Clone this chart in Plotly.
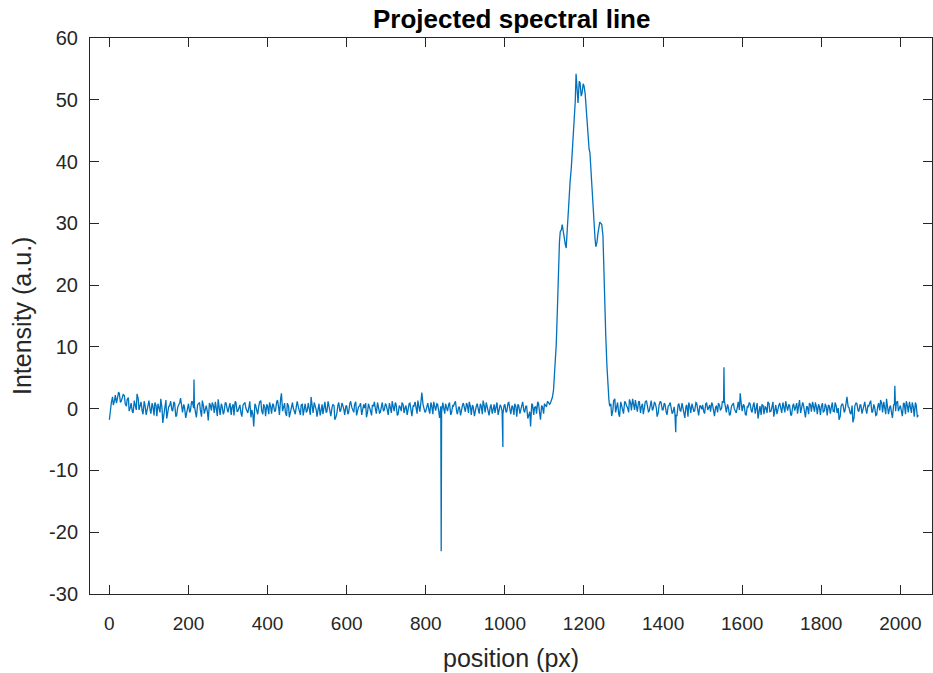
import plotly.graph_objects as go

# Baseline samples: grid A at positions 0,5,10,...
grid_a_start, grid_step = 0, 5
intensity_a = [
    # 0-95
    -1.8, 1.0, 0.6, 2.2, 1.5, 2.5, 1.2, 2.3, 0.8, 1.5, -0.4, 0.9, -0.7, 0.5, 2.4, -0.2, 1.1, -0.9, 0.6, -0.3,
    # 100-195
    1.3, -0.8, 0.4, 1.0, -1.2, 0.2, 1.6, -2.3, 0.8, -1.6, 0.3, 1.2, -0.4, 0.9, -1.1, 0.5, 1.7, -0.6, 0.2, -0.9,
    # 200-295
    0.8, -0.3, 1.1, 0.4, -1.4, 0.7, -0.2, 1.3, -0.8, 0.5, -1.9, 0.6, 1.0, -0.7, 0.3, 1.5, -1.0, 0.4, -0.5, 0.9,
    # 300-395
    -0.6, 0.9, 0.2, -1.1, 1.0, -0.4, 0.6, -1.3, 0.8, 0.1, -0.7, 1.2, -0.2, -2.9, 0.5, -0.9, 1.1, -0.3, 0.7, -1.2,
    # 400-495
    0.4, 1.0, -0.8, 0.6, -0.3, 1.4, -1.0, 2.5, 0.2, -0.6, 0.9, -1.4, 0.5, 0.1, -0.9, 1.2, -0.2, 0.6, -1.1, 0.8,
    # 500-595
    -0.4, 0.3, 1.9, -0.7, 0.5, -1.3, 0.8, 0.0, -0.9, 1.1, -0.5, 0.4, -1.2, 0.7, -1.8, -0.8, 1.0, -0.3, 0.6, -1.0,
    # 600-695
    0.5, -0.6, 1.2, -0.2, 0.7, -1.1, 0.3, 0.9, -0.5, 0.1, -1.4, 0.8, -0.3, 0.6, 1.1, -0.8, 0.2, -0.6, 1.0, -0.2,
    # 700-795
    0.6, -1.0, 0.4, 1.2, -0.4, 0.7, -0.9, 0.3, 1.0, -0.7, 0.5, -0.2, 0.9, -1.2, 0.4, 0.1, 1.3, -0.5, 2.6, 0.3,
    # 800-895
    -0.4, 0.9, -0.8, 0.5, 1.1, -0.3, 0.7, -1.5, -0.6, 0.2, 0.8, -0.4, 1.0, -0.7, 0.4, 1.2, -0.9, 0.3, -0.2, 0.9,
    # 900-995
    -0.5, 0.6, 1.1, -1.0, 0.3, -0.4, 0.8, -0.8, 0.5, 1.3, -0.6, 0.2, -1.1, 0.7, 0.1, -0.7, 1.0, -0.3, 0.4, -0.9,
    # 1000-1095
    0.7, -0.4, 1.0, -0.9, 0.3, 0.8, -1.3, 0.5, -0.2, 1.1, -0.6, 0.4, -1.0, -2.9, 0.6, 0.2, -0.8, 0.9, -1.8, 0.3,
    # 1100-1195 (line rises)
    0.8, 0.3, 1.0, 0.9, 1.8, 5.0, 10.5, 22.0, 28.6, 29.8, 27.2, 26.0, 33.0, 36.8, 41.0, 45.5, 54.2, 49.5, 52.8, 51.0,
    # 1200-1295 (line falls)
    52.3, 49.2, 43.5, 41.5, 35.5, 30.5, 26.2, 28.2, 30.2, 29.8, 22.0, 12.0, 3.5, 0.4, -1.2, 1.3, -0.6, 1.0, -1.3, 0.6,
    # 1300-1395
    -0.8, 1.0, 0.2, 1.5, -0.3, 0.8, 1.4, -0.5, 1.2, 0.3, -0.9, 1.1, 0.5, -0.4, 1.3, 0.0, 0.9, -1.3, 0.6, 1.0,
    # 1400-1495
    -0.2, 0.7, -1.0, 0.5, 0.1, -0.6, -0.8, -1.2, 0.8, -0.4, 0.3, -1.5, 0.6, 1.0, -0.7, 0.2, -0.3, 0.9, -1.1, 0.4,
    # 1500-1595
    0.6, -0.8, 1.0, 0.1, -0.5, 0.7, -1.2, 0.4, 0.9, -0.3, 1.2, 1.3, -0.6, 0.2, -0.9, 0.6, 0.0, -0.7, 1.1, 2.5,
    # 1600-1695
    -0.4, 0.5, -1.1, 0.3, 0.8, -0.6, 1.0, -0.2, -1.6, 0.4, 0.7, -0.9, 0.2, 1.1, -0.5, 0.3, -1.3, 0.6, 0.0, 0.9,
    # 1700-1795
    -0.7, 0.4, 1.2, -0.3, 0.5, -1.0, 0.8, 0.1, -0.8, 1.4, -0.2, 0.6, -1.4, 0.3, 0.9, -0.5, 0.2, 1.0, -0.9, 0.4,
    # 1800-1895
    0.3, -0.6, 0.8, -1.1, 0.5, 0.1, -0.4, 1.0, -0.7, -1.8, 0.4, 0.6, -0.3, 1.9, 0.2, -0.9, -2.2, 0.5, 0.8, -0.5,
    # 1900-1995
    0.6, -0.3, 1.1, -0.8, 0.4, 1.3, -0.5, 0.2, -1.0, 0.9, 1.4, -0.6, 0.3, 1.6, -0.9, 0.5, -1.5, 0.7, 1.0, -0.4,
    # 2000-2045
    0.5, -1.2, 0.8, 1.2, -0.6, 0.3, 1.0, -1.3, 0.6, -1.0,
]

# Grid B at positions 3,8,13,...
grid_b_start = 3
intensity_b = [
    # 3-98
    0.2, 1.9, 1.3, 0.9, 2.6, 1.0, 1.7, 2.1, 0.4, 1.8, 0.2, -0.5, 1.3, -0.2, 1.6, 0.6, -0.4, 1.2, -1.0, 0.5,
    # 103-198
    -0.2, 0.9, -1.1, 0.5, 0.8, -0.6, 0.1, -0.9, 1.4, -0.7, 0.6, -0.2, 1.1, -1.3, 0.3, 1.0, -0.4, 0.7, -1.5, 0.4,
    # 203-298
    -0.6, 1.2, 0.1, -0.9, 0.6, 1.0, -1.3, 0.4, 0.2, -0.6, 0.9, -0.3, 0.5, 1.1, -1.2, 0.3, 0.8, -0.9, 1.0, -0.1,
    # 303-398
    0.4, -1.0, 0.7, 1.2, -0.5, 0.2, -0.8, 0.6, 1.0, -0.6, 0.3, -1.4, -1.0, 0.8, -0.4, 0.5, 1.3, -0.9, 0.2, 0.7,
    # 403-498
    -0.9, 0.3, 0.8, -0.5, 1.1, 0.2, 1.6, -0.4, 0.9, -1.2, 0.4, -0.3, 1.0, -0.7, 0.5, 0.2, -1.0, 0.7, 0.3, -0.6,
    # 503-598
    0.9, -1.0, 0.6, 1.0, -0.2, 0.4, -1.1, 0.7, 0.3, -0.6, 1.2, -0.8, 0.2, 0.5, -1.3, 0.6, -0.5, 0.9, -0.2, 0.4,
    # 603-698
    -0.9, 0.8, 0.2, -0.6, 1.1, -0.3, 0.5, -1.0, 0.7, 0.9, -0.5, 0.3, -1.1, 0.4, -0.2, 1.0, -0.7, 0.6, -0.4, 0.8,
    # 703-798
    -0.3, 0.9, -0.7, 0.2, 1.0, -1.1, 0.5, -0.4, 0.6, 0.2, -1.0, 0.8, -0.2, 0.5, 1.1, -0.8, 0.3, 1.2, 0.7, -0.6,
    # 803-898
    0.6, -0.2, 1.0, -0.9, 0.3, 0.8, -0.5, 0.4, 1.0, -0.8, 0.1, 0.7, -1.0, 0.5, 0.9, -0.4, 0.2, -1.1, 0.6, -0.3,
    # 903-998
    0.9, -0.7, 0.3, 0.6, -1.2, 0.5, -0.1, 0.8, -0.9, 0.4, 1.0, -0.5, 0.3, -0.8, 0.7, 0.2, -1.0, 0.6, -0.4, 0.5,
    # 1003-1098
    -0.6, 0.9, -0.2, 0.5, -1.0, 0.3, 0.7, -0.8, 1.0, -0.3, 0.4, -1.6, -0.5, 0.8, -1.0, 0.3, 1.1, -0.6, 0.5, -0.8,
    # 1103-1198 (line rises)
    0.5, 1.2, 0.7, 1.4, 3.0, 7.5, 16.5, 27.0, 29.0, 28.5, 26.5, 29.5, 35.0, 39.0, 43.5, 49.8, 51.8, 53.0, 50.6, 52.6,
    # 1203-1298 (line falls)
    51.0, 46.0, 42.0, 38.0, 33.0, 27.5, 27.0, 29.5, 30.0, 28.0, 17.0, 7.0, 1.5, 0.8, -0.3, 1.6, 0.2, -0.9, 1.1, -0.4,
    # 1303-1398
    1.2, 0.4, -0.6, 0.9, 1.6, -0.2, 0.5, 1.1, -0.7, 0.8, 0.2, 1.3, -0.5, 0.6, -0.3, 1.0, 0.1, -0.6, 1.2, -0.2,
    # 1403-1498
    0.9, -0.6, 0.4, 1.0, -0.8, 0.3, -1.0, 0.6, -0.3, 0.9, -0.6, 0.4, -1.3, 0.2, 0.8, -0.5, 1.0, -0.8, 0.5, -0.1,
    # 1503-1598
    -0.5, 0.8, -0.2, 0.6, 1.0, -0.9, 0.3, -0.6, 0.5, 0.1, 1.0, -0.4, 0.7, -1.1, 0.4, 0.9, -0.5, 0.3, -0.2, 0.6,
    # 1603-1698
    0.7, -0.9, 0.4, 1.0, -0.3, 0.6, -0.8, 0.9, 0.2, -1.0, 0.5, 0.3, -0.7, 0.8, -0.4, 1.1, -0.2, -0.9, 0.6, -0.5,
    # 1703-1798
    1.0, -0.6, 0.3, 0.7, -1.1, 0.5, -0.3, 0.9, 0.2, -0.7, 1.0, -0.4, 0.4, -0.9, 0.6, 1.1, -0.5, 0.2, 0.7, -1.0,
    # 1803-1898
    0.9, -0.3, 0.2, 0.6, -0.8, 1.0, -0.5, 0.4, 0.1, -1.2, 0.8, -0.6, 1.0, 0.3, -0.7, 0.5, -1.4, 0.9, -0.3, 0.6,
    # 1903-1998
    -0.8, 0.9, -0.2, 0.5, 1.0, -0.6, 0.7, -1.1, 0.4, -0.3, 0.8, 1.1, -0.9, 0.5, 0.2, -0.8, 0.6, -0.4, 1.2, 0.3,
    # 2003-2043
    -0.5, 0.9, -0.9, 0.4, 1.1, -0.7, 0.2, 1.0, -1.4,
]

# Isolated single-pixel spikes
spike_positions = [214, 839, 995, 1432, 1554, 1986]
spike_values = [4.7, -23.1, -6.2, -3.8, 6.7, 3.7]

x_ticks = [0, 200, 400, 600, 800, 1000, 1200, 1400, 1600, 1800, 2000]
y_ticks = [-30, -20, -10, 0, 10, 20, 30, 40, 50, 60]

pos_a = [grid_a_start + i * grid_step for i in range(len(intensity_a))]
pos_b = [grid_b_start + i * grid_step for i in range(len(intensity_b))]
pts = sorted(list(zip(pos_a, intensity_a)) + list(zip(pos_b, intensity_b))
             + list(zip(spike_positions, spike_values)))
xs = [p[0] for p in pts]
ys = [p[1] for p in pts]

axis_col = "#262626"
font_family = "Liberation Sans, Arial, Helvetica, sans-serif"

fig = go.Figure()
fig.add_trace(go.Scatter(x=xs, y=ys, mode="lines",
                         line=dict(color="#0072BD", width=1.3), showlegend=False))

fig.update_layout(
    width=933, height=673,
    margin=dict(l=90, r=1, t=38, b=79),
    paper_bgcolor="white", plot_bgcolor="white",
    font=dict(family=font_family, color=axis_col, size=19),
)
fig.update_xaxes(range=[-49, 2080], tickvals=x_ticks, ticktext=[str(v) for v in x_ticks],
                 showgrid=False, zeroline=False, showline=True, linecolor=axis_col,
                 linewidth=1, mirror="ticks", ticks="inside", ticklen=9, tickcolor=axis_col,
                 ticklabelstandoff=12, tickfont=dict(size=19, color=axis_col))
fig.update_yaxes(range=[-30, 60], tickvals=y_ticks, ticktext=[str(v) for v in y_ticks],
                 showgrid=False, zeroline=False, showline=True, linecolor=axis_col,
                 linewidth=1, mirror="ticks", ticks="inside", ticklen=9, tickcolor=axis_col,
                 ticklabelstandoff=7, tickfont=dict(size=20, color=axis_col))

fig.add_annotation(text="<b>Projected spectral line</b>", xref="paper", yref="paper",
                   x=0.5, y=1, yshift=19, xanchor="center", yanchor="middle",
                   showarrow=False, font=dict(size=26, color="black", family=font_family))
fig.add_annotation(text="position (px)", xref="paper", yref="paper", x=0.5, y=0,
                   yshift=-64, xanchor="center", yanchor="middle", showarrow=False,
                   font=dict(size=25, color=axis_col, family=font_family))
fig.add_annotation(text="Intensity (a.u.)", xref="paper", yref="paper", x=0, y=0.5,
                   xshift=-68, xanchor="center", yanchor="middle", textangle=-90,
                   showarrow=False, font=dict(size=25, color=axis_col, family=font_family))

fig.write_html("out.html", config={"displayModeBar": False},
               post_script="document.body.style.margin='0';")
